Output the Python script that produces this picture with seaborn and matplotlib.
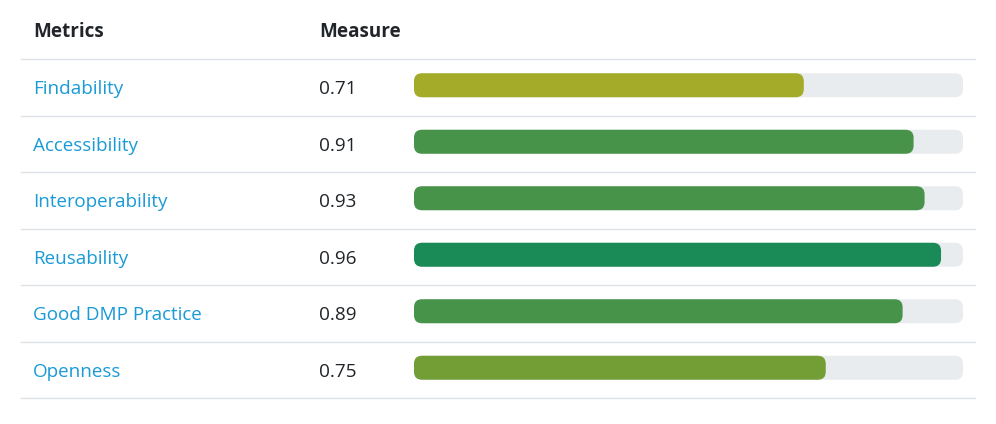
import matplotlib
matplotlib.use("Agg")
import matplotlib.pyplot as plt
import seaborn as sns
from matplotlib.patches import FancyBboxPatch

metrics = ["Findability", "Accessibility", "Interoperability", "Reusability",
           "Good DMP Practice", "Openness"]
measures = [0.71, 0.91, 0.93, 0.96, 0.89, 0.75]
bar_colors = ["#a3ab28", "#48934a", "#48934a", "#1a8a57", "#48934a", "#739d35"]

W, H = 996, 424
fig = plt.figure(figsize=(W / 100, H / 100), dpi=100)
plt.rcParams["font.family"] = "Open Sans"

# overlay for text and rules, in pixel coords
ov = fig.add_axes([0, 0, 1, 1])
ov.set_xlim(0, W)
ov.set_ylim(H, 0)
ov.axis("off")

top, row_h = 59, 56.5
fs = 13.6
ov.text(33, 32, "Metrics", fontsize=fs, fontweight="bold", color="#212529", va="center")
ov.text(319, 32, "Measure", fontsize=fs, fontweight="bold", color="#212529", va="center")
for i in range(len(metrics) + 1):
    ov.plot([21, 975], [top + i * row_h] * 2, color="#dee2e6", lw=1)
for i, (m, v) in enumerate(zip(metrics, measures)):
    yc = top + row_h * (i + 0.5)
    ov.text(33, yc + 2, m, fontsize=fs, color="#1a9ad6", va="center")
    ov.text(319, yc + 2, f"{v:.2f}", fontsize=fs, color="#212529", va="center")

# bar axes
x0, x1 = 414, 963
ax = fig.add_axes([x0 / W, (H - (top - 2 + 6 * row_h)) / H, (x1 - x0) / W, 6 * row_h / H])
bw = 24 / row_h
sns.barplot(x=[1.0] * len(metrics), y=metrics, orient="h", color="#e9ecef",
            width=bw, ax=ax, saturation=1)
sns.barplot(x=measures, y=metrics, orient="h", hue=metrics, palette=bar_colors,
            width=bw, ax=ax, saturation=1, legend=False)
ax.set_xlim(0, 1)
ax.set_ylim(5.5, -0.5)
ax.axis("off")

r = 8
aspect = (x1 - x0) / row_h
for p in list(ax.patches):
    x, y, w, h = p.get_x(), p.get_y(), p.get_width(), p.get_height()
    fc = p.get_facecolor()
    p.set_visible(False)
    ax.add_patch(FancyBboxPatch((x, y), w, h,
                                boxstyle=f"round,pad=0,rounding_size={r / (x1 - x0)}",
                                mutation_aspect=aspect, fc=fc, ec="none"))

fig.savefig("out.png", dpi=100)
